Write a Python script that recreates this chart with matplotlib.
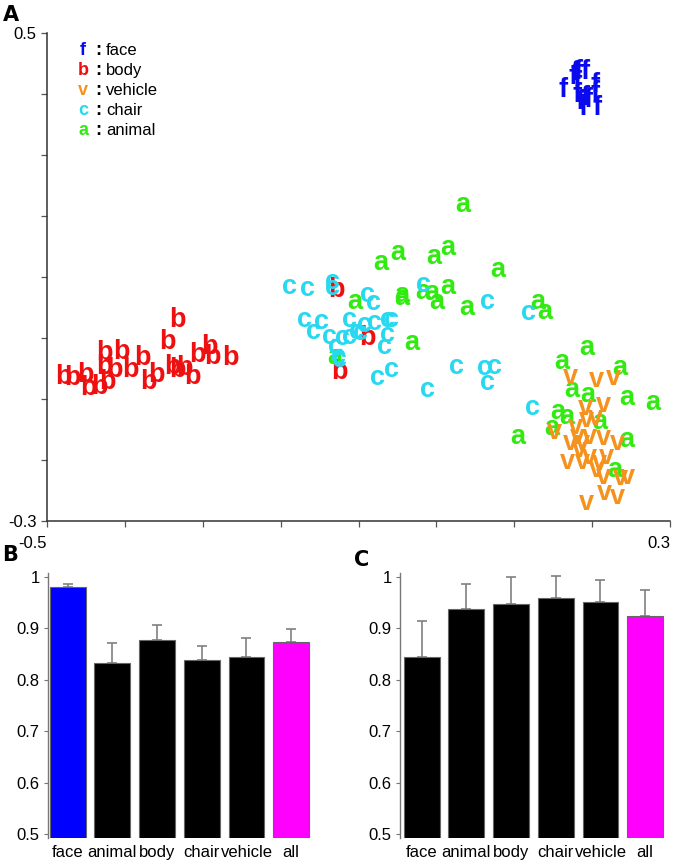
import matplotlib
matplotlib.use('Agg')
import matplotlib.pyplot as plt
import numpy as np

plt.rcParams['font.family'] = ['Liberation Sans', 'DejaVu Sans']

# ---------------- Panel A data (2-D embedding) ----------------
face_x = [0.163, 0.178, 0.182, 0.191, 0.181, 0.181, 0.184, 0.191, 0.195, 0.204, 0.204, 0.206, 0.188, 0.175]
face_y = [0.407, 0.434, 0.436, 0.436, 0.418, 0.398, 0.387, 0.393, 0.390, 0.415, 0.402, 0.377, 0.377, 0.428]

body_x = [-0.333, -0.345, -0.479, -0.467, -0.451, -0.447, -0.432, -0.422, -0.426, -0.426,
          -0.413, -0.404, -0.393, -0.378, -0.370, -0.359, -0.339, -0.332, -0.323, -0.313,
          -0.307, -0.291, -0.287, -0.265, -0.128, -0.089, -0.124]
body_y = [0.030, -0.006, -0.064, -0.065, -0.061, -0.082, -0.080, -0.072, -0.025, -0.047,
          -0.052, -0.023, -0.052, -0.033, -0.072, -0.061, -0.047, -0.052, -0.049, -0.064,
          -0.028, -0.015, -0.031, -0.033, 0.079, 0.000, -0.056]

vehicle_x = [0.172, 0.206, 0.227, 0.191, 0.214, 0.152, 0.178, 0.193, 0.204, 0.172,
             0.188, 0.197, 0.214, 0.232, 0.168, 0.188, 0.197, 0.210, 0.219, 0.206,
             0.214, 0.236, 0.245, 0.216, 0.232, 0.193, 0.181, 0.184]
vehicle_y = [-0.064, -0.069, -0.066, -0.115, -0.110, -0.154, -0.146, -0.134, -0.131, -0.172,
             -0.172, -0.162, -0.164, -0.172, -0.203, -0.203, -0.195, -0.205, -0.195, -0.216,
             -0.228, -0.229, -0.228, -0.254, -0.261, -0.270, -0.162, -0.184]

chair_x = [-0.188, -0.165, -0.134, -0.133, -0.089, -0.081, -0.169, -0.147, -0.158, -0.137,
           -0.130, -0.121, -0.111, -0.111, -0.098, -0.092, -0.079, -0.063, -0.057, -0.063,
           -0.066, -0.126, -0.124, -0.075, -0.057, -0.102, -0.017, 0.066, 0.118, 0.026,
           0.062, 0.075, 0.066, -0.011, 0.124]
chair_y = [0.084, 0.080, 0.092, 0.082, 0.071, 0.057, 0.030, 0.026, 0.010, 0.002,
           -0.015, 0.000, 0.002, 0.030, 0.008, 0.021, 0.025, 0.030, 0.030, 0.005,
           -0.015, -0.031, -0.036, -0.065, -0.052, 0.010, 0.087, 0.059, 0.041, -0.047,
           -0.049, -0.047, -0.074, -0.085, -0.115]

animal_x = [0.034, -0.072, -0.049, -0.004, 0.014, 0.079, -0.044, -0.044, -0.018, -0.006,
            0.001, 0.015, 0.039, 0.130, 0.139, -0.105, -0.031, -0.130, 0.193, 0.161,
            0.236, 0.174, 0.195, 0.245, 0.278, 0.156, 0.168, 0.148, 0.105, 0.210,
            0.245, 0.229]
animal_y = [0.218, 0.123, 0.139, 0.133, 0.148, 0.112, 0.071, 0.066, 0.075, 0.074,
            0.059, 0.084, 0.049, 0.059, 0.043, 0.059, -0.008, -0.031, -0.016, -0.039,
            -0.049, -0.085, -0.093, -0.098, -0.106, -0.121, -0.129, -0.147, -0.162, -0.138,
            -0.167, -0.216]

# legend / category info
cat_letters = ['f', 'b', 'v', 'c', 'a']
cat_names = ['face', 'body', 'vehicle', 'chair', 'animal']
cat_colors = ['#0a0aef', '#ee1010', '#f5921e', '#26d8f0', '#30ea10']

# ---------------- Panels B & C data ----------------
bar_labels = ['face', 'animal', 'body', 'chair', 'vehicle', 'all']
b_values = [0.981, 0.832, 0.877, 0.839, 0.845, 0.873]
b_errors = [0.005, 0.040, 0.030, 0.026, 0.037, 0.025]
c_values = [0.845, 0.938, 0.947, 0.959, 0.952, 0.924]
c_errors = [0.069, 0.048, 0.054, 0.044, 0.042, 0.051]
bar_colors_b = ['#0000ff', '#000000', '#000000', '#000000', '#000000', '#ff00ff']
bar_colors_c = ['#000000', '#000000', '#000000', '#000000', '#000000', '#ff00ff']

W, H = 682, 866
fig = plt.figure(figsize=(W / 100, H / 100), dpi=100)

def frac(left, top, right, bottom):
    return [left / W, 1 - bottom / H, (right - left) / W, (bottom - top) / H]

# ---------------- Panel A ----------------
axA = fig.add_axes(frac(47, 33, 670, 521))
axA.set_xlim(-0.5, 0.3)
axA.set_ylim(-0.3, 0.5)
for s in ['top', 'right']:
    axA.spines[s].set_visible(False)
for s in ['left', 'bottom']:
    axA.spines[s].set_color('#333333')
    axA.spines[s].set_linewidth(1.1)

xt = np.round(np.arange(-0.5, 0.301, 0.1), 2)
yt = np.round(np.arange(-0.3, 0.501, 0.1), 2)
axA.set_xticks(xt)
axA.set_xticklabels(['-0.5'] + [''] * (len(xt) - 2) + ['0.3'])
axA.set_yticks(yt)
axA.set_yticklabels(['-0.3'] + [''] * (len(yt) - 2) + ['0.5'])
axA.tick_params(axis='both', length=4, width=0.9, color='#555555', labelsize=12)
axA.tick_params(axis='x', pad=7)
for lab in axA.get_xticklabels():
    lab.set_horizontalalignment('right')

groups = [
    (animal_x, animal_y, 'a', cat_colors[4]),
    (vehicle_x, vehicle_y, 'v', cat_colors[2]),
    (body_x, body_y, 'b', cat_colors[1]),
    (chair_x, chair_y, 'c', cat_colors[3]),
    (face_x, face_y, 'f', cat_colors[0]),
]
for xs, ys, letter, col in groups:
    for x, y in zip(xs, ys):
        axA.text(x, y, letter, color=col, fontsize=19.5, fontweight='bold',
                 ha='center', va='center')

# legend
for i, (let, name, col) in enumerate(zip(cat_letters, cat_names, cat_colors)):
    yy = 0.965 - i * 0.041
    axA.text(0.058, yy, let, color=col, fontsize=13, fontweight='bold',
             ha='center', va='center', transform=axA.transAxes)
    axA.text(0.082, yy, ':', color='black', fontsize=13, fontweight='bold',
             ha='center', va='center', transform=axA.transAxes)
    axA.text(0.095, yy, name, color='black', fontsize=12,
             ha='left', va='center', transform=axA.transAxes)

fig.text(3 / W, 1 - 15 / H, 'A', fontsize=15, fontweight='heavy', family='DejaVu Sans',
         ha='left', va='center')

# ---------------- Panels B & C ----------------
def bar_panel(ax, vals, errs, cols, xlim):
    xs = np.arange(len(bar_labels))
    ax.bar(xs, vals, width=0.8, bottom=0, color=cols, edgecolor='#666666', linewidth=0.8, zorder=2)
    ax.errorbar(xs, vals, yerr=[np.zeros(len(errs)), errs], fmt='none',
                ecolor='#808080', elinewidth=1.2, capsize=3.5, capthick=1.2, zorder=1)
    ax.set_xlim(*xlim)
    ax.set_ylim(0.492, 1.008)
    ax.set_yticks([0.5, 0.6, 0.7, 0.8, 0.9, 1.0])
    ax.set_yticklabels(['0.5', '0.6', '0.7', '0.8', '0.9', '1'])
    ax.set_xticks(xs)
    ax.set_xticklabels(bar_labels)
    for s in ['top', 'right', 'bottom']:
        ax.spines[s].set_visible(False)
    ax.spines['left'].set_color('#777777')
    ax.spines['left'].set_linewidth(1.0)
    ax.tick_params(axis='y', length=3, width=0.8, color='#777777', labelsize=12, pad=3)
    ax.tick_params(axis='x', length=0, labelsize=12, pad=5)

axB = fig.add_axes(frac(48, 573, 313.5, 838))
bar_panel(axB, b_values, b_errors, bar_colors_b, (-0.44, 5.5))
axC = fig.add_axes(frac(400, 573, 667.5, 838))
bar_panel(axC, c_values, c_errors, bar_colors_c, (-0.485, 5.5))

fig.text(2 / W, 1 - 555 / H, 'B', fontsize=15, fontweight='heavy', family='DejaVu Sans',
         ha='left', va='center')
fig.text(354 / W, 1 - 560 / H, 'C', fontsize=15, fontweight='heavy', family='DejaVu Sans',
         ha='left', va='center')

fig.savefig('out.png', dpi=100)
